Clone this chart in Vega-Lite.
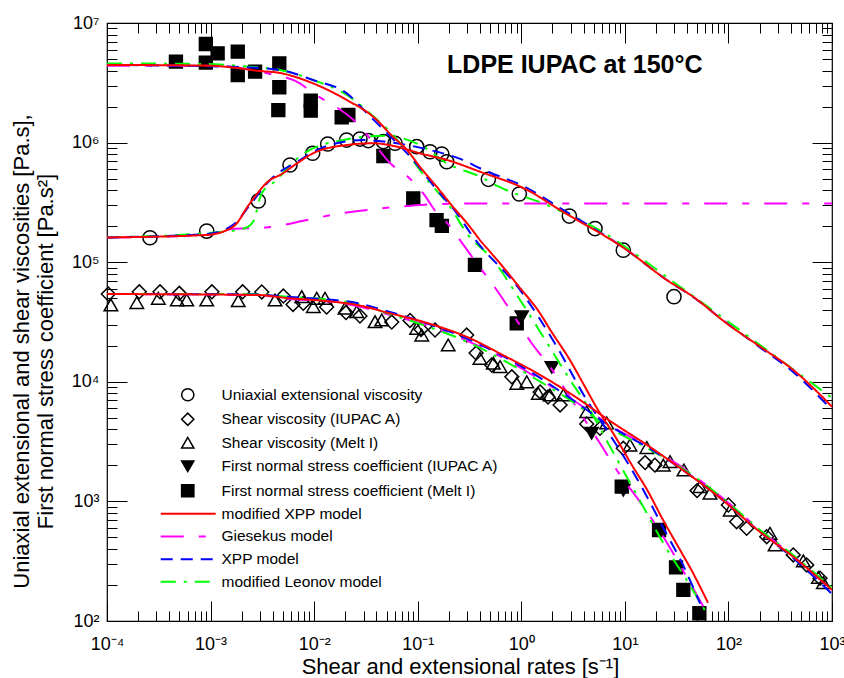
{
  "$schema": "https://vega.github.io/schema/vega-lite/v6.json",
  "autosize": {"type": "none"},
  "padding": {"left": 107, "top": 23, "right": 12, "bottom": 57},
  "width": 725,
  "height": 598,
  "background": "white",
  "config": {
    "view": {"stroke": "black", "strokeWidth": 1.2},
    "axis": {"grid": false, "domain": false, "labelFlush": false, "labelOverlap": false, "tickColor": "black", "tickWidth": 1, "labelColor": "black", "titleColor": "black"}
  },
  "datasets": {
    "pts": [
      {"s":"U","x":0.00026,"y":160000},{"s":"U","x":0.000918,"y":182000},{"s":"U","x":0.00289,"y":325000},{"s":"U","x":0.00585,"y":650000},{"s":"U","x":0.00968,"y":815000},{"s":"U","x":0.01352,"y":973000},{"s":"U","x":0.0206,"y":1050000},{"s":"U","x":0.0277,"y":1070000},{"s":"U","x":0.0333,"y":1040000},{"s":"U","x":0.0466,"y":1020000},{"s":"U","x":0.0604,"y":987000},{"s":"U","x":0.0977,"y":925000},{"s":"U","x":0.1315,"y":839000},{"s":"U","x":0.1706,"y":803000},{"s":"U","x":0.1906,"y":692000},{"s":"U","x":0.481,"y":493000},{"s":"U","x":0.957,"y":372000},{"s":"U","x":2.91,"y":243000},{"s":"U","x":5.15,"y":191000},{"s":"U","x":9.66,"y":126000},{"s":"U","x":29.8,"y":51500},
      {"s":"D","x":0.000103,"y":54200},{"s":"D","x":0.000205,"y":56600},{"s":"D","x":0.000325,"y":56600},{"s":"D","x":0.000499,"y":54900},{"s":"D","x":0.00103,"y":56600},{"s":"D","x":0.00204,"y":56600},{"s":"D","x":0.00312,"y":56400},{"s":"D","x":0.00504,"y":52100},{"s":"D","x":0.00625,"y":44300},{"s":"D","x":0.00785,"y":45300},{"s":"D","x":0.0132,"y":42200},{"s":"D","x":0.0203,"y":37900},{"s":"D","x":0.0277,"y":35500},{"s":"D","x":0.0561,"y":31600},{"s":"D","x":0.0843,"y":32600},{"s":"D","x":0.1077,"y":27400},{"s":"D","x":0.147,"y":27100},{"s":"D","x":0.297,"y":24600},{"s":"D","x":0.366,"y":17400},{"s":"D","x":0.518,"y":13800},{"s":"D","x":0.81,"y":11000},{"s":"D","x":1.52,"y":8220},{"s":"D","x":1.81,"y":7460},{"s":"D","x":2.37,"y":6400},{"s":"D","x":4.28,"y":4440},{"s":"D","x":5.75,"y":4080},{"s":"D","x":9.66,"y":2780},{"s":"D","x":15.7,"y":2110},{"s":"D","x":19.5,"y":2010},{"s":"D","x":49.8,"y":1230},{"s":"D","x":99.8,"y":933},{"s":"D","x":120,"y":676},{"s":"D","x":150,"y":596},{"s":"D","x":234,"y":507},{"s":"D","x":423,"y":357},{"s":"D","x":570,"y":294},{"s":"D","x":766,"y":228},
      {"s":"T","x":0.000109,"y":43900},{"s":"T","x":0.000194,"y":45900},{"s":"T","x":0.000313,"y":49900},{"s":"T","x":0.000477,"y":48300},{"s":"T","x":0.000589,"y":48300},{"s":"T","x":0.000918,"y":48300},{"s":"T","x":0.00185,"y":47600},{"s":"T","x":0.00419,"y":48300},{"s":"T","x":0.00759,"y":51500},{"s":"T","x":0.00982,"y":42500},{"s":"T","x":0.0106,"y":49900},{"s":"T","x":0.01274,"y":49900},{"s":"T","x":0.01986,"y":41200},{"s":"T","x":0.02576,"y":38600},{"s":"T","x":0.0387,"y":31800},{"s":"T","x":0.0449,"y":32900},{"s":"T","x":0.0977,"y":28000},{"s":"T","x":0.1094,"y":24600},{"s":"T","x":0.197,"y":20300},{"s":"T","x":0.399,"y":15700},{"s":"T","x":0.537,"y":14300},{"s":"T","x":0.624,"y":13400},{"s":"T","x":0.904,"y":9700},{"s":"T","x":1.13,"y":10000},{"s":"T","x":1.46,"y":8010},{"s":"T","x":1.89,"y":7760},{"s":"T","x":2.55,"y":7760},{"s":"T","x":4.28,"y":5620},{"s":"T","x":6.68,"y":4530},{"s":"T","x":11.2,"y":2960},{"s":"T","x":16.3,"y":2820},{"s":"T","x":23.5,"y":2010},{"s":"T","x":27.3,"y":2150},{"s":"T","x":37.2,"y":1830},{"s":"T","x":53.2,"y":1330},{"s":"T","x":66.4,"y":1170},{"s":"T","x":104,"y":847},{"s":"T","x":252,"y":541},{"s":"T","x":282,"y":432},{"s":"T","x":528,"y":318},{"s":"T","x":738,"y":231},{"s":"T","x":825,"y":209},
      {"s":"V","x":1.01,"y":35000},{"s":"V","x":1.97,"y":13200},{"s":"V","x":4.78,"y":3710},{"s":"V","x":9.66,"y":1240},
      {"s":"S","x":0.000463,"y":4750000},{"s":"S","x":0.0009,"y":6670000},{"s":"S","x":0.0009,"y":4660000},{"s":"S","x":0.00117,"y":5580000},{"s":"S","x":0.00183,"y":5760000},{"s":"S","x":0.00183,"y":3670000},{"s":"S","x":0.00269,"y":3920000},{"s":"S","x":0.00461,"y":4600000},{"s":"S","x":0.00461,"y":2900000},{"s":"S","x":0.00451,"y":1870000},{"s":"S","x":0.00927,"y":2240000},{"s":"S","x":0.00927,"y":1850000},{"s":"S","x":0.01845,"y":1630000},{"s":"S","x":0.0214,"y":1700000},{"s":"S","x":0.0466,"y":773000},{"s":"S","x":0.0906,"y":342000},{"s":"S","x":0.152,"y":225000},{"s":"S","x":0.171,"y":201000},{"s":"S","x":0.357,"y":94900},{"s":"S","x":0.904,"y":30800},{"s":"S","x":9.33,"y":1330},{"s":"S","x":21.4,"y":577},{"s":"S","x":31.2,"y":281},{"s":"S","x":36.7,"y":182},{"s":"S","x":52.4,"y":116}
    ],
    "lines": [
      {"m":"MX","c":"N","x":0.0001,"y":4460000},{"m":"MX","c":"N","x":0.000924,"y":4400000},{"m":"MX","c":"N","x":0.00192,"y":4180000},{"m":"MX","c":"N","x":0.00281,"y":3990000},{"m":"MX","c":"N","x":0.00468,"y":3820000},{"m":"MX","c":"N","x":0.00975,"y":3130000},{"m":"MX","c":"N","x":0.0207,"y":2270000},{"m":"MX","c":"N","x":0.037,"y":1650000},{"m":"MX","c":"N","x":0.0577,"y":1120000},{"m":"MX","c":"N","x":0.0789,"y":867000},{"m":"MX","c":"N","x":0.105,"y":628000},{"m":"MX","c":"N","x":0.153,"y":426000},{"m":"MX","c":"N","x":0.219,"y":290000},{"m":"MX","c":"N","x":0.32,"y":197000},{"m":"MX","c":"N","x":0.399,"y":153000},{"m":"MX","c":"N","x":0.521,"y":117000},{"m":"MX","c":"N","x":0.667,"y":91200},{"m":"MX","c":"N","x":0.973,"y":60800},{"m":"MX","c":"N","x":1.42,"y":40600},{"m":"MX","c":"N","x":2.02,"y":25100},{"m":"MX","c":"N","x":2.95,"y":15200},{"m":"MX","c":"N","x":4.03,"y":9400},{"m":"MX","c":"N","x":5.51,"y":5810},{"m":"MX","c":"N","x":7.68,"y":3730},{"m":"MX","c":"N","x":12,"y":1940},{"m":"MX","c":"N","x":16.4,"y":1250},{"m":"MX","c":"N","x":23.4,"y":698},{"m":"MX","c":"N","x":34.1,"y":393},{"m":"MX","c":"N","x":45.5,"y":252},{"m":"MX","c":"N","x":63.5,"y":142},
      {"m":"MX","c":"E","x":0.0001,"y":161000},{"m":"MX","c":"E","x":0.000924,"y":169000},{"m":"MX","c":"E","x":0.00165,"y":198000},{"m":"MX","c":"E","x":0.0024,"y":311000},{"m":"MX","c":"E","x":0.00375,"y":487000},{"m":"MX","c":"E","x":0.00468,"y":536000},{"m":"MX","c":"E","x":0.00684,"y":671000},{"m":"MX","c":"E","x":0.00975,"y":814000},{"m":"MX","c":"E","x":0.0207,"y":955000},{"m":"MX","c":"E","x":0.037,"y":987000},{"m":"MX","c":"E","x":0.0631,"y":924000},{"m":"MX","c":"E","x":0.105,"y":814000},{"m":"MX","c":"E","x":0.192,"y":716000},{"m":"MX","c":"E","x":0.399,"y":571000},{"m":"MX","c":"E","x":1.14,"y":402000},{"m":"MX","c":"E","x":2.37,"y":273000},{"m":"MX","c":"E","x":10.5,"y":126000},{"m":"MX","c":"E","x":25.4,"y":71000},{"m":"MX","c":"E","x":45.5,"y":51500},{"m":"MX","c":"E","x":96.2,"y":30800},{"m":"MX","c":"E","x":200,"y":19800},{"m":"MX","c":"E","x":421,"y":12600},{"m":"MX","c":"E","x":1000,"y":6190},
      {"m":"MX","c":"S","x":0.0001,"y":54200},{"m":"MX","c":"S","x":0.00281,"y":53200},{"m":"MX","c":"S","x":0.00585,"y":49900},{"m":"MX","c":"S","x":0.0122,"y":47600},{"m":"MX","c":"S","x":0.0259,"y":43900},{"m":"MX","c":"S","x":0.0539,"y":37400},{"m":"MX","c":"S","x":0.112,"y":31800},{"m":"MX","c":"S","x":0.32,"y":23100},{"m":"MX","c":"S","x":0.667,"y":16700},{"m":"MX","c":"S","x":1.42,"y":11800},{"m":"MX","c":"S","x":2.95,"y":8020},{"m":"MX","c":"S","x":7.68,"y":4530},{"m":"MX","c":"S","x":16.4,"y":2960},{"m":"MX","c":"S","x":34.1,"y":1900},{"m":"MX","c":"S","x":83,"y":1070},{"m":"MX","c":"S","x":202,"y":555},{"m":"MX","c":"S","x":421,"y":345},{"m":"MX","c":"S","x":1000,"y":182},
      {"m":"G","c":"N","x":0.0001,"y":4400000},{"m":"G","c":"N","x":0.000924,"y":4400000},{"m":"G","c":"N","x":0.00192,"y":4210000},{"m":"G","c":"N","x":0.00375,"y":3750000},{"m":"G","c":"N","x":0.00729,"y":3130000},{"m":"G","c":"N","x":0.00982,"y":2580000},{"m":"G","c":"N","x":0.0153,"y":2060000},{"m":"G","c":"N","x":0.0239,"y":1550000},{"m":"G","c":"N","x":0.037,"y":1010000},{"m":"G","c":"N","x":0.0539,"y":675000},{"m":"G","c":"N","x":0.0789,"y":526000},{"m":"G","c":"N","x":0.112,"y":379000},{"m":"G","c":"N","x":0.153,"y":258000},{"m":"G","c":"N","x":0.192,"y":213000},{"m":"G","c":"N","x":0.256,"y":153000},{"m":"G","c":"N","x":0.372,"y":97900},{"m":"G","c":"N","x":0.579,"y":58600},{"m":"G","c":"N","x":0.838,"y":36200},{"m":"G","c":"N","x":1.26,"y":21000},{"m":"G","c":"N","x":1.89,"y":13400},{"m":"G","c":"N","x":3.3,"y":6400},{"m":"G","c":"N","x":5.75,"y":3060},{"m":"G","c":"N","x":8.34,"y":1830},{"m":"G","c":"N","x":15.1,"y":903},{"m":"G","c":"N","x":23.5,"y":507},{"m":"G","c":"N","x":39.5,"y":234},{"m":"G","c":"N","x":57.2,"y":132},
      {"m":"G","c":"E","x":0.0001,"y":161000},{"m":"G","c":"E","x":0.000924,"y":169000},{"m":"G","c":"E","x":0.00133,"y":186000},{"m":"G","c":"E","x":0.00404,"y":198000},{"m":"G","c":"E","x":0.00847,"y":225000},{"m":"G","c":"E","x":0.0178,"y":256000},{"m":"G","c":"E","x":0.0372,"y":277000},{"m":"G","c":"E","x":0.0783,"y":295000},{"m":"G","c":"E","x":0.164,"y":307000},{"m":"G","c":"E","x":0.624,"y":310000},{"m":"G","c":"E","x":1000,"y":310000},
      {"m":"G","c":"S","x":0.0001,"y":54200},{"m":"G","c":"S","x":0.00281,"y":53200},{"m":"G","c":"S","x":0.00585,"y":49200},{"m":"G","c":"S","x":0.0122,"y":47400},{"m":"G","c":"S","x":0.0259,"y":43000},{"m":"G","c":"S","x":0.0539,"y":36200},{"m":"G","c":"S","x":0.112,"y":30400},{"m":"G","c":"S","x":0.32,"y":21500},{"m":"G","c":"S","x":0.667,"y":15800},{"m":"G","c":"S","x":1.42,"y":10800},{"m":"G","c":"S","x":2.95,"y":7320},{"m":"G","c":"S","x":7.68,"y":4190},{"m":"G","c":"S","x":16.4,"y":2900},{"m":"G","c":"S","x":34.1,"y":1980},{"m":"G","c":"S","x":83,"y":1110},{"m":"G","c":"S","x":202,"y":577},{"m":"G","c":"S","x":421,"y":349},{"m":"G","c":"S","x":1000,"y":182},
      {"m":"X","c":"N","x":0.0001,"y":4460000},{"m":"X","c":"N","x":0.00192,"y":4290000},{"m":"X","c":"N","x":0.00468,"y":4050000},{"m":"X","c":"N","x":0.00975,"y":3340000},{"m":"X","c":"N","x":0.0207,"y":2580000},{"m":"X","c":"N","x":0.0324,"y":1760000},{"m":"X","c":"N","x":0.0505,"y":1200000},{"m":"X","c":"N","x":0.0902,"y":716000},{"m":"X","c":"N","x":0.153,"y":402000},{"m":"X","c":"N","x":0.239,"y":256000},{"m":"X","c":"N","x":0.342,"y":163000},{"m":"X","c":"N","x":0.973,"y":58600},{"m":"X","c":"N","x":2.2,"y":19700},{"m":"X","c":"N","x":4.28,"y":7050},{"m":"X","c":"N","x":6.68,"y":3950},{"m":"X","c":"N","x":11.2,"y":1950},{"m":"X","c":"N","x":16.3,"y":1100},{"m":"X","c":"N","x":23.5,"y":600},{"m":"X","c":"N","x":36.7,"y":290},{"m":"X","c":"N","x":53.2,"y":140},
      {"m":"X","c":"E","x":0.0001,"y":161000},{"m":"X","c":"E","x":0.000924,"y":172000},{"m":"X","c":"E","x":0.00165,"y":205000},{"m":"X","c":"E","x":0.0024,"y":301000},{"m":"X","c":"E","x":0.00375,"y":487000},{"m":"X","c":"E","x":0.00468,"y":571000},{"m":"X","c":"E","x":0.00684,"y":688000},{"m":"X","c":"E","x":0.00975,"y":834000},{"m":"X","c":"E","x":0.0142,"y":955000},{"m":"X","c":"E","x":0.0296,"y":1050000},{"m":"X","c":"E","x":0.0631,"y":987000},{"m":"X","c":"E","x":0.1315,"y":867000},{"m":"X","c":"E","x":0.273,"y":716000},{"m":"X","c":"E","x":0.399,"y":610000},{"m":"X","c":"E","x":1.14,"y":417000},{"m":"X","c":"E","x":2.37,"y":284000},{"m":"X","c":"E","x":10.5,"y":126000},{"m":"X","c":"E","x":25.4,"y":71000},{"m":"X","c":"E","x":45.5,"y":51200},{"m":"X","c":"E","x":96.2,"y":31000},{"m":"X","c":"E","x":200,"y":19500},{"m":"X","c":"E","x":421,"y":12100},{"m":"X","c":"E","x":1000,"y":5810},
      {"m":"X","c":"S","x":0.0001,"y":54200},{"m":"X","c":"S","x":0.00281,"y":53700},{"m":"X","c":"S","x":0.00585,"y":51200},{"m":"X","c":"S","x":0.0122,"y":49200},{"m":"X","c":"S","x":0.0259,"y":45600},{"m":"X","c":"S","x":0.0539,"y":38400},{"m":"X","c":"S","x":0.112,"y":31600},{"m":"X","c":"S","x":0.32,"y":22400},{"m":"X","c":"S","x":0.667,"y":16400},{"m":"X","c":"S","x":1.42,"y":11200},{"m":"X","c":"S","x":2.95,"y":7320},{"m":"X","c":"S","x":7.68,"y":4110},{"m":"X","c":"S","x":16.4,"y":2850},{"m":"X","c":"S","x":34.1,"y":1900},{"m":"X","c":"S","x":83,"y":1070},{"m":"X","c":"S","x":202,"y":555},{"m":"X","c":"S","x":421,"y":336},{"m":"X","c":"S","x":1000,"y":168},
      {"m":"ML","c":"N","x":0.0001,"y":4590000},{"m":"ML","c":"N","x":0.000924,"y":4540000},{"m":"ML","c":"N","x":0.00192,"y":4370000},{"m":"ML","c":"N","x":0.00468,"y":4050000},{"m":"ML","c":"N","x":0.00975,"y":3340000},{"m":"ML","c":"N","x":0.0207,"y":2500000},{"m":"ML","c":"N","x":0.037,"y":1670000},{"m":"ML","c":"N","x":0.0577,"y":1160000},{"m":"ML","c":"N","x":0.1315,"y":457000},{"m":"ML","c":"N","x":0.205,"y":291000},{"m":"ML","c":"N","x":0.297,"y":175000},{"m":"ML","c":"N","x":0.537,"y":104000},{"m":"ML","c":"N","x":0.973,"y":48300},{"m":"ML","c":"N","x":1.63,"y":23800},{"m":"ML","c":"N","x":2.95,"y":10400},{"m":"ML","c":"N","x":4.61,"y":5810},{"m":"ML","c":"N","x":7.19,"y":2870},{"m":"ML","c":"N","x":10.4,"y":1610},{"m":"ML","c":"N","x":16.3,"y":796},{"m":"ML","c":"N","x":23.5,"y":447},{"m":"ML","c":"N","x":39.5,"y":220},{"m":"ML","c":"N","x":61.7,"y":116},
      {"m":"ML","c":"E","x":0.0001,"y":161000},{"m":"ML","c":"E","x":0.00132,"y":180000},{"m":"ML","c":"E","x":0.00215,"y":193000},{"m":"ML","c":"E","x":0.00257,"y":218000},{"m":"ML","c":"E","x":0.00312,"y":377000},{"m":"ML","c":"E","x":0.00436,"y":487000},{"m":"ML","c":"E","x":0.00585,"y":650000},{"m":"ML","c":"E","x":0.00847,"y":839000},{"m":"ML","c":"E","x":0.0191,"y":1050000},{"m":"ML","c":"E","x":0.0466,"y":1140000},{"m":"ML","c":"E","x":0.113,"y":924000},{"m":"ML","c":"E","x":0.191,"y":670000},{"m":"ML","c":"E","x":0.399,"y":520000},{"m":"ML","c":"E","x":0.6,"y":430000},{"m":"ML","c":"E","x":1.76,"y":301000},{"m":"ML","c":"E","x":4.96,"y":198000},{"m":"ML","c":"E","x":34.1,"y":62400},{"m":"ML","c":"E","x":202,"y":20300},{"m":"ML","c":"E","x":1000,"y":7320},
      {"m":"ML","c":"S","x":0.0001,"y":54200},{"m":"ML","c":"S","x":0.00281,"y":54200},{"m":"ML","c":"S","x":0.00585,"y":51200},{"m":"ML","c":"S","x":0.0122,"y":49200},{"m":"ML","c":"S","x":0.0259,"y":44800},{"m":"ML","c":"S","x":0.0539,"y":36900},{"m":"ML","c":"S","x":0.112,"y":29900},{"m":"ML","c":"S","x":0.32,"y":21100},{"m":"ML","c":"S","x":0.667,"y":15200},{"m":"ML","c":"S","x":1.42,"y":10400},{"m":"ML","c":"S","x":2.95,"y":7050},{"m":"ML","c":"S","x":7.68,"y":3950},{"m":"ML","c":"S","x":16.4,"y":2790},{"m":"ML","c":"S","x":34.1,"y":1940},{"m":"ML","c":"S","x":83,"y":1110},{"m":"ML","c":"S","x":202,"y":577},{"m":"ML","c":"S","x":421,"y":356},{"m":"ML","c":"S","x":1000,"y":189}
    ],
    "ann": [{"t": "LDPE IUPAC at 150°C", "x": 0.192, "y": 3790000}]
  },
  "layer": [
    {
      "data": {"name": "pts"},
      "mark": {"type": "point", "strokeWidth": 1.5, "opacity": 1},
      "encoding": {
        "x": {"field": "x", "type": "quantitative", "scale": {"type": "log", "domain": [0.0001, 1000], "nice": false},
          "axis": {"orient": "bottom", "values": [0.0001,0.001,0.01,0.1,1,10,100,1000], "ticks": false, "domain": false,
            "labelExpr": "datum.value < 0.0005 ? '10⁻⁴' : datum.value < 0.005 ? '10⁻³' : datum.value < 0.05 ? '10⁻²' : datum.value < 0.5 ? '10⁻¹' : datum.value < 5 ? '10⁰' : datum.value < 50 ? '10¹' : datum.value < 500 ? '10²' : '10³'",
            "labelFont": "Liberation Sans", "labelFontSize": 18, "labelPadding": 14,
            "title": "Shear and extensional rates [s⁻¹]", "titleFont": "Liberation Sans", "titleFontSize": 22, "titleFontWeight": "normal", "titleX": 353, "titleY": 52, "titleBaseline": "alphabetic"}},
        "y": {"field": "y", "type": "quantitative", "scale": {"type": "log", "domain": [100, 10000000], "nice": false},
          "axis": {"orient": "left", "values": [100,1000,10000,100000,1000000,10000000], "ticks": false, "domain": false,
            "labelExpr": "datum.value < 500 ? '10²' : datum.value < 5000 ? '10³' : datum.value < 50000 ? '10⁴' : datum.value < 500000 ? '10⁵' : datum.value < 5000000 ? '10⁶' : '10⁷'",
            "labelFont": "Liberation Sans", "labelFontSize": 18, "labelPadding": 8,
            "title": ["Uniaxial extensional and shear viscosities [Pa.s],", "First normal stress coefficient [Pa.s²]"],
            "titleFont": "Liberation Sans", "titleFontSize": 22, "titleFontWeight": "normal", "titleLineHeight": 24, "titleX": -86, "titleY": 328, "titleBaseline": "middle"}},
        "shape": {"field": "s", "type": "nominal", "scale": {"domain": ["U","D","T","V","S"], "range": ["circle","diamond","triangle-up","triangle-down","square"]},
          "legend": {"orient": "none", "legendX": 73, "legendY": 364, "title": null, "symbolSize": 150, "symbolStrokeWidth": 1.5, "labelOffset": 26, "rowPadding": 5.5, "padding": 0, "labelFont": "Liberation Sans", "labelFontSize": 15.5, "labelColor": "black", "labelLimit": 400,
            "labelExpr": "datum.label == 'U' ? 'Uniaxial extensional viscosity' : datum.label == 'D' ? 'Shear viscosity (IUPAC A)' : datum.label == 'T' ? 'Shear viscosity (Melt I)' : datum.label == 'V' ? 'First normal stress coefficient (IUPAC A)' : 'First normal stress coefficient (Melt I)'"}},
        "fill": {"field": "s", "type": "nominal", "scale": {"domain": ["U","D","T","V","S"], "range": ["transparent","transparent","transparent","black","black"]},
          "legend": {"orient": "none", "legendX": 73, "legendY": 364, "title": null, "symbolSize": 150, "symbolStrokeWidth": 1.5, "labelOffset": 26, "rowPadding": 5.5, "padding": 0, "labelFont": "Liberation Sans", "labelFontSize": 15.5, "labelColor": "black", "labelLimit": 400,
            "labelExpr": "datum.label == 'U' ? 'Uniaxial extensional viscosity' : datum.label == 'D' ? 'Shear viscosity (IUPAC A)' : datum.label == 'T' ? 'Shear viscosity (Melt I)' : datum.label == 'V' ? 'First normal stress coefficient (IUPAC A)' : 'First normal stress coefficient (Melt I)'"}},
        "stroke": {"field": "s", "type": "nominal", "scale": {"domain": ["U","D","T","V","S"], "range": ["black","black","black","black","black"]},
          "legend": {"orient": "none", "legendX": 73, "legendY": 364, "title": null, "symbolSize": 150, "symbolStrokeWidth": 1.5, "labelOffset": 26, "rowPadding": 5.5, "padding": 0, "labelFont": "Liberation Sans", "labelFontSize": 15.5, "labelColor": "black", "labelLimit": 400,
            "labelExpr": "datum.label == 'U' ? 'Uniaxial extensional viscosity' : datum.label == 'D' ? 'Shear viscosity (IUPAC A)' : datum.label == 'T' ? 'Shear viscosity (Melt I)' : datum.label == 'V' ? 'First normal stress coefficient (IUPAC A)' : 'First normal stress coefficient (Melt I)'"}},
        "size": {"field": "s", "type": "ordinal", "scale": {"domain": ["S","V","T","D","U"], "range": [165, 200, 200, 240, 280]}, "legend": null}
      }
    },
    {
      "data": {"name": "lines"},
      "transform": [{"filter": {"field": "m", "equal": "G"}}],
      "mark": {"type": "line", "strokeWidth": 2, "interpolate": "monotone"},
      "encoding": {
        "x": {"field": "x", "type": "quantitative", "scale": {"type": "log", "domain": [0.0001, 1000], "nice": false},
          "axis": {"orient": "bottom", "values": [0.0001,0.001,0.01,0.1,1,10,100,1000], "labels": false, "domain": false, "tickSize": -20, "title": null}},
        "y": {"field": "y", "type": "quantitative", "scale": {"type": "log", "domain": [100, 10000000], "nice": false},
          "axis": {"orient": "left", "values": [100,1000,10000,100000,1000000,10000000], "labels": false, "domain": false, "tickSize": -20, "title": null}},
        "detail": {"field": "c"},
        "color": {"field": "m", "type": "nominal", "scale": {"domain": ["MX","G","X","ML"], "range": ["#ff0000","#ff00ff","#0000ff","#00ff00"]},
          "legend": {"orient": "none", "legendX": 73.5, "legendY": 483, "title": null, "symbolType": "M-5.5,0L5.5,0", "symbolSize": 100, "symbolStrokeWidth": 2, "labelOffset": 25.5, "rowPadding": 5.7, "padding": 0, "labelFont": "Liberation Sans", "labelFontSize": 15.5, "labelColor": "black", "labelLimit": 400,
            "labelExpr": "datum.label == 'MX' ? 'modified XPP model' : datum.label == 'G' ? 'Giesekus model' : datum.label == 'X' ? 'XPP model' : 'modified Leonov model'"}},
        "strokeDash": {"field": "m", "type": "nominal", "scale": {"domain": ["MX","G","X","ML"], "range": [[1,0],[23,15,7,15],[12,8],[15,8,3,8]]},
          "legend": {"orient": "none", "legendX": 73.5, "legendY": 483, "title": null, "symbolType": "M-5.5,0L5.5,0", "symbolSize": 100, "symbolStrokeWidth": 2, "labelOffset": 25.5, "rowPadding": 5.7, "padding": 0, "labelFont": "Liberation Sans", "labelFontSize": 15.5, "labelColor": "black", "labelLimit": 400,
            "labelExpr": "datum.label == 'MX' ? 'modified XPP model' : datum.label == 'G' ? 'Giesekus model' : datum.label == 'X' ? 'XPP model' : 'modified Leonov model'"}}
      }
    },
    {
      "data": {"name": "lines"},
      "transform": [{"filter": {"field": "m", "equal": "ML"}}],
      "mark": {"type": "line", "strokeWidth": 2, "interpolate": "monotone"},
      "encoding": {
        "x": {"field": "x", "type": "quantitative", "scale": {"type": "log", "domain": [0.0001, 1000], "nice": false},
          "axis": {"orient": "bottom", "values": [0.0002,0.0003,0.0004,0.0005,0.0006,0.0007,0.0008,0.0009,0.002,0.003,0.004,0.005,0.006,0.007,0.008,0.009,0.02,0.03,0.04,0.05,0.06,0.07,0.08,0.09,0.2,0.3,0.4,0.5,0.6,0.7,0.8,0.9,2,3,4,5,6,7,8,9,20,30,40,50,60,70,80,90,200,300,400,500,600,700,800,900], "labels": false, "domain": false, "tickSize": -10, "title": null}},
        "y": {"field": "y", "type": "quantitative", "scale": {"type": "log", "domain": [100, 10000000], "nice": false},
          "axis": {"orient": "left", "values": [200,300,400,500,600,700,800,900,2000,3000,4000,5000,6000,7000,8000,9000,20000,30000,40000,50000,60000,70000,80000,90000,200000,300000,400000,500000,600000,700000,800000,900000,2000000,3000000,4000000,5000000,6000000,7000000,8000000,9000000], "labels": false, "domain": false, "tickSize": -10, "title": null}},
        "detail": {"field": "c"},
        "color": {"field": "m", "type": "nominal", "scale": {"domain": ["MX","G","X","ML"], "range": ["#ff0000","#ff00ff","#0000ff","#00ff00"]},
          "legend": {"orient": "none", "legendX": 73.5, "legendY": 483, "title": null, "symbolType": "M-5.5,0L5.5,0", "symbolSize": 100, "symbolStrokeWidth": 2, "labelOffset": 25.5, "rowPadding": 5.7, "padding": 0, "labelFont": "Liberation Sans", "labelFontSize": 15.5, "labelColor": "black", "labelLimit": 400,
            "labelExpr": "datum.label == 'MX' ? 'modified XPP model' : datum.label == 'G' ? 'Giesekus model' : datum.label == 'X' ? 'XPP model' : 'modified Leonov model'"}},
        "strokeDash": {"field": "m", "type": "nominal", "scale": {"domain": ["MX","G","X","ML"], "range": [[1,0],[23,15,7,15],[12,8],[15,8,3,8]]},
          "legend": {"orient": "none", "legendX": 73.5, "legendY": 483, "title": null, "symbolType": "M-5.5,0L5.5,0", "symbolSize": 100, "symbolStrokeWidth": 2, "labelOffset": 25.5, "rowPadding": 5.7, "padding": 0, "labelFont": "Liberation Sans", "labelFontSize": 15.5, "labelColor": "black", "labelLimit": 400,
            "labelExpr": "datum.label == 'MX' ? 'modified XPP model' : datum.label == 'G' ? 'Giesekus model' : datum.label == 'X' ? 'XPP model' : 'modified Leonov model'"}}
      }
    },
    {
      "data": {"name": "lines"},
      "transform": [{"filter": {"field": "m", "equal": "X"}}],
      "mark": {"type": "line", "strokeWidth": 2, "interpolate": "monotone"},
      "encoding": {
        "x": {"field": "x", "type": "quantitative", "scale": {"type": "log", "domain": [0.0001, 1000], "nice": false},
          "axis": {"orient": "top", "values": [0.0001,0.001,0.01,0.1,1,10,100,1000], "labels": false, "domain": false, "tickSize": -20, "title": null}},
        "y": {"field": "y", "type": "quantitative", "scale": {"type": "log", "domain": [100, 10000000], "nice": false},
          "axis": {"orient": "right", "values": [100,1000,10000,100000,1000000,10000000], "labels": false, "domain": false, "tickSize": -20, "title": null}},
        "detail": {"field": "c"},
        "color": {"field": "m", "type": "nominal", "scale": {"domain": ["MX","G","X","ML"], "range": ["#ff0000","#ff00ff","#0000ff","#00ff00"]},
          "legend": {"orient": "none", "legendX": 73.5, "legendY": 483, "title": null, "symbolType": "M-5.5,0L5.5,0", "symbolSize": 100, "symbolStrokeWidth": 2, "labelOffset": 25.5, "rowPadding": 5.7, "padding": 0, "labelFont": "Liberation Sans", "labelFontSize": 15.5, "labelColor": "black", "labelLimit": 400,
            "labelExpr": "datum.label == 'MX' ? 'modified XPP model' : datum.label == 'G' ? 'Giesekus model' : datum.label == 'X' ? 'XPP model' : 'modified Leonov model'"}},
        "strokeDash": {"field": "m", "type": "nominal", "scale": {"domain": ["MX","G","X","ML"], "range": [[1,0],[23,15,7,15],[12,8],[15,8,3,8]]},
          "legend": {"orient": "none", "legendX": 73.5, "legendY": 483, "title": null, "symbolType": "M-5.5,0L5.5,0", "symbolSize": 100, "symbolStrokeWidth": 2, "labelOffset": 25.5, "rowPadding": 5.7, "padding": 0, "labelFont": "Liberation Sans", "labelFontSize": 15.5, "labelColor": "black", "labelLimit": 400,
            "labelExpr": "datum.label == 'MX' ? 'modified XPP model' : datum.label == 'G' ? 'Giesekus model' : datum.label == 'X' ? 'XPP model' : 'modified Leonov model'"}}
      }
    },
    {
      "data": {"name": "lines"},
      "transform": [{"filter": {"field": "m", "equal": "MX"}}],
      "mark": {"type": "line", "strokeWidth": 2, "interpolate": "monotone"},
      "encoding": {
        "x": {"field": "x", "type": "quantitative", "scale": {"type": "log", "domain": [0.0001, 1000], "nice": false},
          "axis": {"orient": "top", "values": [0.0002,0.0003,0.0004,0.0005,0.0006,0.0007,0.0008,0.0009,0.002,0.003,0.004,0.005,0.006,0.007,0.008,0.009,0.02,0.03,0.04,0.05,0.06,0.07,0.08,0.09,0.2,0.3,0.4,0.5,0.6,0.7,0.8,0.9,2,3,4,5,6,7,8,9,20,30,40,50,60,70,80,90,200,300,400,500,600,700,800,900], "labels": false, "domain": false, "tickSize": -10, "title": null}},
        "y": {"field": "y", "type": "quantitative", "scale": {"type": "log", "domain": [100, 10000000], "nice": false},
          "axis": {"orient": "right", "values": [200,300,400,500,600,700,800,900,2000,3000,4000,5000,6000,7000,8000,9000,20000,30000,40000,50000,60000,70000,80000,90000,200000,300000,400000,500000,600000,700000,800000,900000,2000000,3000000,4000000,5000000,6000000,7000000,8000000,9000000], "labels": false, "domain": false, "tickSize": -10, "title": null}},
        "detail": {"field": "c"},
        "color": {"field": "m", "type": "nominal", "scale": {"domain": ["MX","G","X","ML"], "range": ["#ff0000","#ff00ff","#0000ff","#00ff00"]},
          "legend": {"orient": "none", "legendX": 73.5, "legendY": 483, "title": null, "symbolType": "M-5.5,0L5.5,0", "symbolSize": 100, "symbolStrokeWidth": 2, "labelOffset": 25.5, "rowPadding": 5.7, "padding": 0, "labelFont": "Liberation Sans", "labelFontSize": 15.5, "labelColor": "black", "labelLimit": 400,
            "labelExpr": "datum.label == 'MX' ? 'modified XPP model' : datum.label == 'G' ? 'Giesekus model' : datum.label == 'X' ? 'XPP model' : 'modified Leonov model'"}},
        "strokeDash": {"field": "m", "type": "nominal", "scale": {"domain": ["MX","G","X","ML"], "range": [[1,0],[23,15,7,15],[12,8],[15,8,3,8]]},
          "legend": {"orient": "none", "legendX": 73.5, "legendY": 483, "title": null, "symbolType": "M-5.5,0L5.5,0", "symbolSize": 100, "symbolStrokeWidth": 2, "labelOffset": 25.5, "rowPadding": 5.7, "padding": 0, "labelFont": "Liberation Sans", "labelFontSize": 15.5, "labelColor": "black", "labelLimit": 400,
            "labelExpr": "datum.label == 'MX' ? 'modified XPP model' : datum.label == 'G' ? 'Giesekus model' : datum.label == 'X' ? 'XPP model' : 'modified Leonov model'"}}
      }
    },
    {
      "data": {"name": "ann"},
      "mark": {"type": "text", "align": "left", "baseline": "alphabetic", "font": "Liberation Sans", "fontSize": 25, "fontWeight": "bold", "color": "black"},
      "encoding": {
        "x": {"field": "x", "type": "quantitative", "scale": {"type": "log", "domain": [0.0001, 1000], "nice": false}, "axis": null},
        "y": {"field": "y", "type": "quantitative", "scale": {"type": "log", "domain": [100, 10000000], "nice": false}, "axis": null},
        "text": {"field": "t"}
      }
    }
  ],
  "resolve": {"axis": {"x": "independent", "y": "independent"}}
}
